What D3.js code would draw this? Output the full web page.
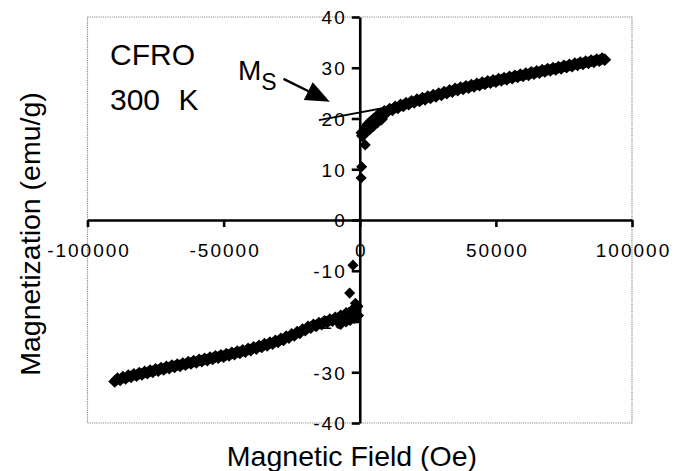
<!DOCTYPE html>
<html>
<head>
<meta charset="utf-8">
<script src="https://cdn.jsdelivr.net/npm/d3@7"></script>
<style>
  html, body { margin: 0; padding: 0; background: #fff; }
  svg { display: block; font-family: "Liberation Sans", Arial, Helvetica, sans-serif; }
</style>
</head>
<body>
<svg id="chart" width="676" height="471"></svg>
<script>
// ---- data ----
const xTicks = [-100000, -50000, 0, 50000, 100000];
const yTicks = [-40, -30, -20, -10, 0, 10, 20, 30, 40];

// positive-field branch (sweep 1)
const fieldPos = [1000, 1500, 2000, 3000, 4000, 5000, 6000, 8000, 10000, 12000, 14000, 16000, 18000, 20000,
  22000, 24000, 26000, 28000, 30000, 32000, 34000, 36000, 38000, 40000, 42000, 44000, 46000, 48000, 50000,
  52000, 54000, 56000, 58000, 60000, 62000, 64000, 66000, 68000, 70000, 72000, 74000, 76000, 78000, 80000,
  82000, 84000, 86000, 88000, 90000];
const magPos = [16.6, 17.4, 18.1, 18.8, 19.3, 19.8, 20.2, 20.8, 21.3, 21.7, 22.1, 22.5, 22.85, 23.2,
  23.5, 23.8, 24.1, 24.4, 24.7, 25.0, 25.3, 25.6, 25.85, 26.1, 26.35, 26.6, 26.85, 27.1, 27.3,
  27.55, 27.75, 28.0, 28.2, 28.4, 28.6, 28.85, 29.05, 29.3, 29.5, 29.7, 29.9, 30.15, 30.35, 30.6,
  30.8, 31.0, 31.2, 31.4, 31.6];

// positive-field branch (sweep 2)
const fieldPos2 = [7000, 9000, 11000, 13000, 15000, 17000, 19000, 21000, 23000, 25000, 27000, 29000, 31000,
  33000, 35000, 37000, 39000, 41000, 43000, 45000, 47000, 49000, 51000, 53000, 55000, 57000, 59000, 61000,
  63000, 65000, 67000, 69000, 71000, 73000, 75000, 77000, 79000, 81000, 83000, 85000, 87000, 89000];
const magPos2 = [20.8, 21.4, 21.85, 22.25, 22.65, 23.0, 23.35, 23.7, 24.0, 24.3, 24.6, 24.9, 25.2,
  25.5, 25.8, 26.05, 26.3, 26.55, 26.8, 27.05, 27.3, 27.5, 27.75, 27.95, 28.2, 28.4, 28.6, 28.8,
  29.05, 29.25, 29.5, 29.7, 29.9, 30.1, 30.35, 30.55, 30.8, 31.0, 31.2, 31.4, 31.6, 31.8];

// negative-field branch (sweep 1)
const fieldNeg = [-1000, -2000, -3000, -4000, -6000, -8000, -10000, -12000, -14000, -16000, -18000, -20000,
  -22000, -24000, -26000, -28000, -30000, -32000, -34000, -36000, -38000, -40000, -42000, -44000, -46000,
  -48000, -50000, -52000, -54000, -56000, -58000, -60000, -62000, -64000, -66000, -68000, -70000, -72000,
  -74000, -76000, -78000, -80000, -82000, -84000, -86000, -88000, -90000];
const magNeg = [-17.0, -17.5, -18.0, -18.4, -18.95, -19.4, -19.8, -20.15, -20.5, -20.85, -21.2, -21.7,
  -22.2, -22.7, -23.15, -23.6, -24.0, -24.35, -24.7, -25.0, -25.3, -25.6, -25.9, -26.15, -26.4,
  -26.65, -26.9, -27.1, -27.35, -27.6, -27.8, -28.05, -28.25, -28.5, -28.7, -28.9, -29.15, -29.4,
  -29.65, -29.9, -30.15, -30.4, -30.65, -30.9, -31.2, -31.5, -31.8];

// negative-field branch (sweep 2)
const fieldNeg2 = [-5000, -7000, -9000, -11000, -13000, -15000, -17000, -19000, -21000, -23000, -25000,
  -27000, -29000, -31000, -33000, -35000, -37000, -39000, -41000, -43000, -45000, -47000, -49000, -51000,
  -53000, -55000, -57000, -59000, -61000, -63000, -65000, -67000, -69000, -71000, -73000, -75000, -77000,
  -79000, -81000, -83000, -85000, -87000, -89000];
const magNeg2 = [-18.4, -18.9, -19.3, -19.65, -20.0, -20.35, -20.7, -21.1, -21.6, -22.1, -22.55,
  -23.0, -23.45, -23.85, -24.2, -24.5, -24.8, -25.1, -25.4, -25.7, -25.95, -26.2, -26.45, -26.7,
  -26.9, -27.15, -27.4, -27.6, -27.85, -28.05, -28.3, -28.5, -28.7, -28.95, -29.2, -29.45, -29.7,
  -29.95, -30.2, -30.45, -30.7, -31.0, -31.3];

// return sweep near zero field (hysteresis)
const fieldLoop = [800, 2000, 3500, 5000, 6500, 8000, -800, -2000, -3500, -5000, -7000];
const magLoop = [17.2, 17.3, 17.9, 18.6, 19.3, 19.9, -18.8, -19.2, -19.6, -19.9, -20.4];

// switching points near zero field
const fieldSwitch = [500, 700, 2000, -2500, -3700, -1600];
const magSwitch = [8.3, 10.5, 14.8, -8.9, -14.4, -16.4];

// Ms extrapolation line
const msLineField = [-15000, 22000];
const msLineMag = [19.7, 23.4];

// ---- chart ----
const svg = d3.select("#chart");
const x = d3.scaleLinear().domain([-100000, 100000]).range([87.5, 632]);
const y = d3.scaleLinear().domain([-40, 40]).range([423, 17]);
const FONT = '"Liberation Sans", Arial, Helvetica, sans-serif';

// plot border (dotted gray)
svg.append("rect")
  .attr("x", x(-100000)).attr("y", y(40))
  .attr("width", x(100000) - x(-100000)).attr("height", y(-40) - y(40))
  .attr("fill", "none").attr("stroke", "#8a8a8a").attr("stroke-width", 1.2)
  .attr("stroke-dasharray", "1.2,1");

// axes
const fmt = d => String(d);
const xAxis = d3.axisBottom(x).tickValues(xTicks).tickSize(7).tickSizeOuter(0).tickFormat(fmt);
const yAxis = d3.axisLeft(y).tickValues(yTicks).tickSize(8).tickSizeOuter(0).tickFormat(fmt);

const gx = svg.append("g").attr("transform", `translate(0,${y(0)})`).call(xAxis);
const gy = svg.append("g").attr("transform", `translate(${x(0)},0)`).call(yAxis);

[gx, gy].forEach(g => {
  g.select(".domain").attr("stroke", "#000").attr("stroke-width", 2.6);
  g.selectAll(".tick line").attr("stroke", "#000").attr("stroke-width", 2.6);
  g.selectAll(".tick text")
    .attr("fill", "#000")
    .style("font-family", FONT)
    .style("font-size", "19px")
    .style("letter-spacing", "2px");
});
gx.selectAll(".tick text").attr("y", 37).attr("dy", 0).attr("dx", 1);
gy.selectAll(".tick text").attr("x", -13).attr("dy", "0.36em");

// Ms line
svg.append("line")
  .attr("x1", x(msLineField[0])).attr("y1", y(msLineMag[0]))
  .attr("x2", x(msLineField[1])).attr("y2", y(msLineMag[1]))
  .attr("stroke", "#000").attr("stroke-width", 1.8);

// markers
const diamondBig = d3.symbol().type(d3.symbolSquare).size(84)();
const diamondSmall = d3.symbol().type(d3.symbolSquare).size(62)();
function drawSeries(fx, my, shape) {
  svg.append("g").selectAll("path")
    .data(fx.map((f, i) => [f, my[i]]))
    .join("path")
    .attr("d", shape)
    .attr("transform", d => `translate(${x(d[0])},${y(d[1])}) rotate(45)`)
    .attr("fill", "#000");
}
drawSeries(fieldLoop, magLoop, diamondBig);
drawSeries(fieldPos2, magPos2, diamondBig);
drawSeries(fieldNeg2, magNeg2, diamondBig);
drawSeries(fieldPos, magPos, diamondBig);
drawSeries(fieldNeg, magNeg, diamondBig);
drawSeries(fieldSwitch, magSwitch, diamondSmall);

// annotations
svg.append("text").attr("x", 110).attr("y", 65)
  .style("font-family", FONT).style("font-size", "30px").text("CFRO");
svg.append("text").attr("x", 110).attr("y", 110)
  .style("font-family", FONT).style("font-size", "30px").style("word-spacing", "10px").text("300 K");

const ms = svg.append("text").attr("x", 238).attr("y", 80)
  .style("font-family", FONT).style("font-size", "28px");
ms.append("tspan").text("M");
ms.append("tspan").attr("dy", 10).style("font-size", "23px").text("S");

// arrow
const tail = [x(-28000), y(27.8)], tip = [x(-11000), y(23.3)];
const dx = tip[0] - tail[0], dy = tip[1] - tail[1];
const L = Math.hypot(dx, dy), ux = dx / L, uy = dy / L;
const headLen = 24, headW = 10;
const base = [tip[0] - ux * headLen, tip[1] - uy * headLen];
svg.append("line")
  .attr("x1", tail[0]).attr("y1", tail[1]).attr("x2", base[0] + ux * 2).attr("y2", base[1] + uy * 2)
  .attr("stroke", "#000").attr("stroke-width", 2.4);
svg.append("path")
  .attr("d", `M${tip[0]},${tip[1]} L${base[0] - uy * headW},${base[1] + ux * headW} L${base[0] + uy * headW},${base[1] - ux * headW} Z`)
  .attr("fill", "#000");

// axis titles
svg.append("text").attr("x", 352).attr("y", 466).attr("text-anchor", "middle")
  .style("font-family", FONT).style("font-size", "28.5px").text("Magnetic Field (Oe)");
svg.append("text").attr("transform", "translate(40,234) rotate(-90)").attr("text-anchor", "middle")
  .style("font-family", FONT).style("font-size", "28.5px").text("Magnetization (emu/g)");
</script>
</body>
</html>
